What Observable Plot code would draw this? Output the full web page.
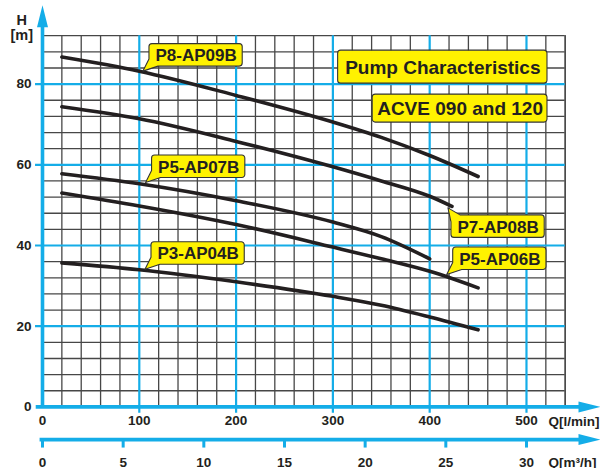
<!DOCTYPE html>
<html>
<head>
<meta charset="utf-8">
<script src="https://cdn.jsdelivr.net/npm/d3@7"></script>
<script src="https://cdn.jsdelivr.net/npm/@observablehq/plot@0.6"></script>
<style>
  html, body { margin: 0; padding: 0; background: #fff; }
  #chart { width: 600px; height: 468px; }
</style>
</head>
<body>
<div id="chart"></div>
<script>
// ---------- data ----------
const seriesNames = ["P8-AP09B", "P7-AP08B", "P5-AP07B", "P5-AP06B", "P3-AP04B"];
const qP8  = [20, 100, 200, 300, 350, 400, 450];
const hP8  = [86.7, 83.2, 77.2, 70.6, 66.8, 62.3, 57.1];
const qP7  = [20, 100, 200, 300, 350, 400, 423];
const hP7  = [74.4, 71.4, 65.8, 59.5, 56.0, 52.2, 49.7];
const qP5a = [20, 100, 200, 300, 350, 400];
const hP5a = [57.8, 55.3, 51.1, 45.8, 42.2, 36.7];
const qP5b = [20, 100, 200, 300, 350, 400, 450];
const hP5b = [53.0, 49.8, 45.2, 39.6, 36.7, 33.6, 29.5];
const qP3  = [20, 100, 200, 300, 350, 400, 450];
const hP3  = [35.7, 34.0, 31.0, 27.4, 25.2, 22.3, 19.1];

const qTicks = [0, 100, 200, 300, 400, 500];        // l/min
const hTicks = [0, 20, 40, 60, 80];                 // m
const m3hTicks = [0, 5, 10, 15, 20, 25, 30];        // m³/h

// callout labels: the point on the curve the callout points to
const labelText = ["P8-AP09B", "P5-AP07B", "P3-AP04B", "P5-AP06B", "P7-AP08B"];
const labelQ    = [104.3, 107.0, 106.4, 418.1, 419.4];
const labelH    = [83.1, 55.5, 34.0, 32.7, 49.2];
const labelSide = ["above", "above", "above", "above", "below"];

// title boxes: top-right corner of each box
const titleText = ["Pump Characteristics", "ACVE 090 and 120"];
const titleQ    = [521.7, 521.7];
const titleH    = [88.3, 77.4];

// ---------- build tables ----------
const qs = [qP8, qP7, qP5a, qP5b, qP3];
const hs = [hP8, hP7, hP5a, hP5b, hP3];
const rows = seriesNames.flatMap((name, i) => qs[i].map((q, j) => ({name, q, h: hs[i][j]})));
const labels = labelText.map((text, i) => ({text, q: labelQ[i], h: labelH[i], side: labelSide[i]}));
const titles = titleText.map((text, i) => ({text, q: titleQ[i], h: titleH[i], side: "title"}));

const blue = "#14ade8";
const ink = "#231f20";
const yellow = "#fff200";
const gridColor = "#474747";
const fontName = "Liberation Sans";
const font = "'Liberation Sans', Arial, sans-serif";

const minorQ = d3.range(20, 541, 20).filter(q => q % 100 !== 0);
const minorH = d3.range(4, 93, 4).filter(h => h % 20 !== 0);
const blueQ = qTicks.filter(q => q > 0);
const blueH = hTicks.filter(h => h > 0);
const m3hToLmin = d => d * 1000 / 60;

const arrowUp = {
  draw(ctx) { ctx.moveTo(0, -11); ctx.lineTo(5.5, 11); ctx.lineTo(-5.5, 11); ctx.closePath(); }
};

// ---------- yellow callout boxes drawn behind Plot text ----------
const measureCtx = document.createElement("canvas").getContext("2d");
function calloutRender(data, fontSize, padX, boxH) {
  return function (index, scales, values, dimensions, context, next) {
    const g = next(index, scales, values, dimensions, context);
    const ns = "http://www.w3.org/2000/svg";
    const wrap = document.createElementNS(ns, "g");
    const texts = g.querySelectorAll("text");
    measureCtx.font = `bold ${fontSize}px '${fontName}'`;
    const r = 3;
    index.forEach((i, k) => {
      const d = data[i];
      const px = values.x[i], py = values.y[i];
      const w = measureCtx.measureText(d.text).width + 2 * padX;
      const h = boxH;
      let left, top;
      if (d.side === "above") { left = px + 6; top = py - 5 - h; }
      else if (d.side === "below") { left = px + 3; top = py + 7; }
      else { left = px - w; top = py; }
      const right = left + w, bottom = top + h;
      const p = d3.path();
      if (d.side === "above") {
        p.moveTo(left, top + r); p.arcTo(left, top, left + r, top, r);
        p.lineTo(right - r, top); p.arcTo(right, top, right, top + r, r);
        p.lineTo(right, bottom - r); p.arcTo(right, bottom, right - r, bottom, r);
        p.lineTo(left + 9, bottom); p.lineTo(px, py); p.lineTo(left, bottom - 7);
        p.closePath();
      } else if (d.side === "below") {
        p.moveTo(left + 9, top);
        p.lineTo(right - r, top); p.arcTo(right, top, right, top + r, r);
        p.lineTo(right, bottom - r); p.arcTo(right, bottom, right - r, bottom, r);
        p.lineTo(left + r, bottom); p.arcTo(left, bottom, left, bottom - r, r);
        p.lineTo(left, top + 7); p.lineTo(px, py);
        p.closePath();
      } else {
        p.moveTo(left, top + r); p.arcTo(left, top, left + r, top, r);
        p.lineTo(right - r, top); p.arcTo(right, top, right, top + r, r);
        p.lineTo(right, bottom - r); p.arcTo(right, bottom, right - r, bottom, r);
        p.lineTo(left + r, bottom); p.arcTo(left, bottom, left, bottom - r, r);
        p.closePath();
      }
      const path = document.createElementNS(ns, "path");
      path.setAttribute("d", p.toString());
      path.setAttribute("fill", yellow);
      path.setAttribute("stroke", "#333");
      path.setAttribute("stroke-width", 1.1);
      path.setAttribute("stroke-linejoin", "round");
      wrap.appendChild(path);
      const t = texts[k];
      if (t) t.setAttribute("transform", `translate(${left + padX},${top + h / 2 + 0.5})`);
    });
    wrap.appendChild(g);
    return wrap;
  };
}

const chart = Plot.plot({
  width: 600,
  height: 468,
  marginLeft: 42,
  marginRight: 35.3,
  marginTop: 35.2,
  marginBottom: 61.6,
  x: {domain: [0, 540], axis: null},
  y: {domain: [0, 92], axis: null},
  style: {fontFamily: font, fontWeight: "bold", color: ink, background: "#fff", overflow: "visible"},
  marks: [
    // grid
    Plot.ruleX(minorQ, {x: d => d, y1: 0, y2: 92, stroke: gridColor, strokeWidth: 1.3}),
    Plot.ruleY(minorH, {y: d => d, x1: 0, x2: 540, stroke: gridColor, strokeWidth: 1.3}),
    Plot.ruleX([540], {x: d => d, y1: 0, y2: 92, stroke: gridColor, strokeWidth: 1.3}),
    Plot.ruleX(blueQ, {x: d => d, y1: -1.6, y2: 92, stroke: blue, strokeWidth: 2.2}),
    Plot.ruleY(blueH, {y: d => d, x1: -7.2, x2: 540, stroke: blue, strokeWidth: 2.2}),
    // curves
    Plot.line(rows, {x: "q", y: "h", z: "name", stroke: ink, strokeWidth: 3.6, curve: "monotone-x"}),
    // main axes
    Plot.ruleY([0], {y: d => d, x1: -6.5, x2: 555, stroke: blue, strokeWidth: 3.6}),
    Plot.ruleX([0], {x: d => d, y1: 0, y2: 95, stroke: blue, strokeWidth: 3.6}),
    Plot.dot([0], {x: 0, y: 96.8, symbol: arrowUp, fill: blue, stroke: null}),
    Plot.dot([0], {x: 565.1, y: 0, symbol: arrowUp, rotate: 90, fill: blue, stroke: null}),
    Plot.axisX({ticks: qTicks, tickSize: 0, tickPadding: 9, fontSize: 13.5, fontWeight: "bold", color: ink, label: null}),
    Plot.axisY({ticks: hTicks, tickSize: 0, tickPadding: 11, fontSize: 13.5, fontWeight: "bold", color: ink, label: null}),
    Plot.text(["Q[l/min]"], {x: 522.7, y: -3.7, text: d => d, textAnchor: "start", fontSize: 13.5, fontWeight: "bold", fill: ink}),
    Plot.text(["H"], {x: -21.5, y: 95.8, text: d => d, fontSize: 14.5, fontWeight: "bold", fill: ink}),
    Plot.text(["[m]"], {x: -21.5, y: 92.0, text: d => d, fontSize: 14.5, fontWeight: "bold", fill: ink}),
    // secondary axis (m³/h)
    Plot.ruleY([-8.1], {y: d => d, x1: -2.5, x2: 555, stroke: blue, strokeWidth: 3.6}),
    Plot.dot([0], {x: 565.1, y: -8.1, symbol: arrowUp, rotate: 90, fill: blue, stroke: null}),
    Plot.ruleX(m3hTicks, {x: m3hToLmin, y1: -8.1, y2: -10.2, stroke: blue, strokeWidth: 3}),
    Plot.text(m3hTicks, {x: m3hToLmin, y: -13.7, text: d => String(d), fontSize: 13.5, fontWeight: "bold", fill: ink}),
    Plot.text(["Q[m³/h]"], {x: 522.7, y: -13.7, text: d => d, textAnchor: "start", fontSize: 13.5, fontWeight: "bold", fill: ink}),
    // curve callouts and title boxes
    Plot.text(labels, {x: "q", y: "h", text: "text", textAnchor: "start", fontSize: 17, fontWeight: "bold", fill: ink,
      render: calloutRender(labels, 17, 6, 22.5)}),
    Plot.text(titles.slice(0, 1), {x: "q", y: "h", text: "text", textAnchor: "start", fontSize: 19, fontWeight: "bold", fill: ink,
      render: calloutRender(titles.slice(0, 1), 19, 7, 33)}),
    Plot.text(titles.slice(1), {x: "q", y: "h", text: "text", textAnchor: "start", fontSize: 19, fontWeight: "bold", fill: ink,
      render: calloutRender(titles.slice(1), 19, 4.5, 28)})
  ]
});
document.getElementById("chart").appendChild(chart);
</script>
</body>
</html>
